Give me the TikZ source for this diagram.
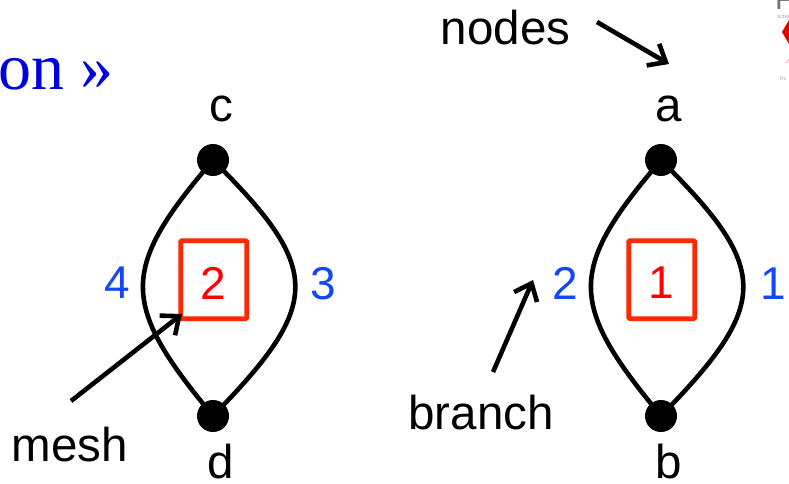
\documentclass[tikz,border=0pt]{standalone}
\usepackage{fontspec}
\setmainfont{Liberation Sans}
\newfontfamily\titlefont{Liberation Serif}
\usetikzlibrary{arrows.meta}
\definecolor{branchblue}{RGB}{20,70,250}
\definecolor{meshred}{RGB}{255,40,0}
\definecolor{titleblue}{RGB}{0,0,225}
\tikzset{
  dotnode/.style={circle, fill=black, inner sep=0pt, minimum size=32pt},
  txt/.style={inner sep=0pt, font=\fontsize{47.5}{47.5}\selectfont},
  branchtxt/.style={inner sep=0pt, text=branchblue, font=\fontsize{46}{46}\selectfont},
  meshbox/.style={draw=meshred, line width=4.6pt, rounded corners=1pt, minimum width=66pt, minimum height=78pt, inner sep=0pt},
  meshtxt/.style={inner sep=0pt, text=red, font=\fontsize{46}{46}\selectfont},
  branchline/.style={line width=4.6pt, line cap=round},
  pointer/.style={line width=4.6pt, -{Straight Barb[length=15pt,width=25pt,line width=4.6pt]}},
  logotxt/.style={inner sep=0pt, anchor=base west, text=black!35, font=\fontsize{6}{6}\selectfont}
}
\begin{document}
\begin{tikzpicture}[x=1pt, y=-1pt]
    \useasboundingbox (0, 0) rectangle (789, 484);
    % title end
    \node[inner sep=0pt, anchor=base west, text=titleblue, font=\titlefont\fontsize{66}{66}\selectfont] (title) at (-2, 90) {on »};
    % left loop
    \node[dotnode] (c) at (213, 160) {};
    \node[dotnode] (d) at (213, 416) {};
    \draw[branchline] (c) .. controls (123, 268) and (123, 305) .. (d);
    \draw[branchline] (c) .. controls (319, 268) and (319, 305) .. (d);
    \node[meshbox] (m2) at (213.7, 279.7) {};
    \node[meshtxt] (n2) at (213.5, 283) {2};
    \node[txt] (lc) at (221, 109) {c};
    \node[txt] (ld) at (221, 462) {d};
    \node[branchtxt] (b4) at (117, 283) {4};
    \node[branchtxt] (b3) at (323.5, 284) {3};
    % right loop
    \node[dotnode] (a) at (661, 160) {};
    \node[dotnode] (b) at (661, 416) {};
    \draw[branchline] (a) .. controls (571, 268) and (571, 305) .. (b);
    \draw[branchline] (a) .. controls (767, 268) and (767, 305) .. (b);
    \node[meshbox] (m1) at (661.7, 279.7) {};
    \node[meshtxt] (n1) at (661.5, 283) {1};
    \node[txt] (la) at (669, 109) {a};
    \node[txt] (lb) at (669, 462) {b};
    \node[branchtxt] (b2) at (565, 283) {2};
    \node[branchtxt] (b1) at (773, 284) {1};
    % labels with arrows
    \node[txt] (nodes) at (505.5, 28) {nodes};
    \coordinate (nodesstart) at (597, 22);
    \coordinate (nodesend) at (669, 64);
    \draw[pointer] (nodesstart) -- (nodesend);
    \node[txt] (branch) at (481, 413) {branch};
    \coordinate (branchstart) at (493, 372);
    \coordinate (branchend) at (533, 280);
    \draw[pointer] (branchstart) -- (branchend);
    \node[txt] (mesh) at (70, 445) {mesh};
    \coordinate (meshstart) at (71, 401);
    \coordinate (meshend) at (182, 314);
    \draw[pointer] (meshstart) -- (meshend);
    % logo corner
    \node[inner sep=0pt, anchor=base west, text=black!55, font=\fontsize{30}{30}\selectfont] (logop) at (775, 10) {P};
    \node[logotxt] (logoa) at (777, 19) {scien};
    \node[logotxt] (logob) at (780, 81) {In:};
    \fill[red!90!black] (782, 32) -- (789, 20) -- (789, 44) -- cycle;
    \draw[red!40, line width=0.6pt] (786, 63) -- (790, 58);
\end{tikzpicture}
\end{document}
